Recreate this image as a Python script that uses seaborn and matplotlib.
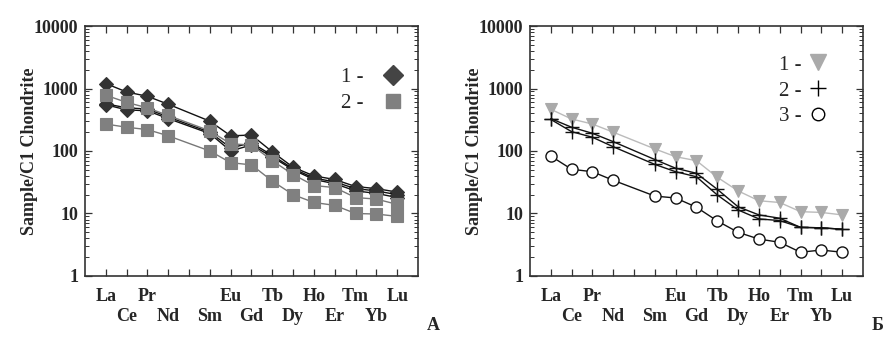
import numpy as np
import pandas as pd
import seaborn as sns
import matplotlib.pyplot as plt
from matplotlib.lines import Line2D

# REE order incl. Pm (no data, only a tick)
ree_all = ["La", "Ce", "Pr", "Nd", "Pm", "Sm", "Eu", "Gd", "Tb", "Dy", "Ho", "Er", "Tm", "Yb", "Lu"]
ree = ["La", "Ce", "Pr", "Nd", "Sm", "Eu", "Gd", "Tb", "Dy", "Ho", "Er", "Tm", "Yb", "Lu"]

# panel A
a_dia1 = [1200, 880, 750, 560, 300, 175, 180, 97, 55, 40, 35, 27, 25, 22]
a_dia2 = [550, 455, 440, 330, 190, 100, 125, 80, 50, 35, 30, 23, 21, 18]
a_dia3 = [570, 490, 470, 350, 200, 112, 135, 85, 52, 37, 32, 25, 23, 20]
a_sq1 = [780, 600, 490, 370, 210, 130, 125, 70, 42, 28, 26, 18, 17, 14]
a_sq2 = [270, 240, 220, 175, 100, 65, 60, 33, 20, 15, 13.5, 10, 9.8, 9]

# panel Б
b_tri = [465, 325, 270, 200, 108, 81, 70, 38, 23, 16, 15, 10.7, 10.4, 9.5]
b_cr1 = [330, 240, 192, 141, 73, 53, 44, 24.4, 12.8, 9.5, 8.4, 6.0, 5.9, 5.6]
b_cr2 = [320, 204, 166, 117, 61, 46.6, 38.7, 19.8, 11.4, 8.2, 7.7, 6.0, 5.9, 5.6]
b_circ = [83, 51, 46.6, 34, 19, 17.7, 12.6, 7.6, 5.0, 3.9, 3.46, 2.4, 2.6, 2.4]

sns.set_style("ticks")
plt.rcParams['font.family'] = ['Liberation Serif', 'DejaVu Serif']

xpos = [ree_all.index(e) for e in ree]


def draw(ax, vals, lcolor, marker, ms, mfc, mec, mew=0.8):
    df = pd.DataFrame({"x": xpos, "y": vals})
    sns.lineplot(data=df, x="x", y="y", ax=ax, sort=False, color=lcolor, lw=1,
                 marker=marker, markersize=ms, markerfacecolor=mfc,
                 markeredgecolor=mec, markeredgewidth=mew)


fig = plt.figure(figsize=(8.91, 3.44), dpi=100)
axA = fig.add_axes([0.0954, 0.1977, 0.3737, 0.7267])
axB = fig.add_axes([0.5948, 0.1977, 0.3737, 0.7267])

dark = "#333333"
sq = "#808080"
tri = "#aaaaaa"

for v in (a_dia1, a_dia2, a_dia3):
    draw(axA, v, "#111111", "D", 7, dark, dark)
for v in (a_sq1, a_sq2):
    draw(axA, v, "#777777", "s", 8, sq, sq)

draw(axB, b_tri, "#bbbbbb", "v", 9, tri, tri)
for v in (b_cr1, b_cr2):
    draw(axB, v, "#111111", "+", 10, "k", "#111111", 1.0)
draw(axB, b_circ, "#111111", "o", 8, "white", "#111111", 1.0)

# two rows of labels: upper row on major ticks, lower row (and unlabeled Pm) on minor ticks
pm = ree_all.index("Pm")
row1 = [i for i in range(len(ree_all)) if i % 2 == 0 and i != pm]
row2 = sorted([i for i in range(len(ree_all)) if i % 2 == 1] + [pm])

for ax in (axA, axB):
    ax.set_yscale("log")
    ax.set_ylim(1, 10000)
    ax.set_xlim(-1, 15)
    ax.set_xticks(row1)
    ax.set_xticklabels([ree_all[i] for i in row1], fontsize=13, fontweight="bold")
    ax.set_xticks(row2, minor=True)
    ax.set_xticklabels([ree_all[i] if i != pm else "" for i in row2], minor=True,
                       fontsize=13, fontweight="bold")
    ax.set_yticks([1, 10, 100, 1000, 10000])
    ax.set_yticklabels(["1", "10", "100", "1000", "10000"], fontsize=13, fontweight="bold")
    ax.tick_params(axis="both", which="major", direction="in", top=True, right=True,
                   length=5, width=0.9, color="#333333", pad=5)
    ax.tick_params(axis="x", which="major", pad=9)
    ax.tick_params(axis="x", which="minor", direction="in", bottom=True, top=True,
                   length=5, width=0.9, color="#333333", pad=23)
    ax.tick_params(axis="y", which="minor", direction="in", left=True, right=True,
                   length=3, width=0.7, color="#333333")
    ax.set_xlabel("")
    ax.set_ylabel("Sample/C1 Chondrite", fontsize=13, fontweight="bold", labelpad=-3)
    for s in ax.spines.values():
        s.set_linewidth(1.2)
        s.set_color("#333333")

hA = [Line2D([], [], ls="none", marker="D", ms=10, mfc="#444444", mec="#444444"),
      Line2D([], [], ls="none", marker="s", ms=10, mfc=sq, mec=sq)]
axA.legend(hA, ["1 -", "2 -"], loc="upper right", bbox_to_anchor=(1.018, 0.875),
           markerfirst=False, frameon=False, fontsize=15, handlelength=2.0,
           handletextpad=0.4, labelspacing=0.3, borderpad=0)

hB = [Line2D([], [], ls="none", marker="v", ms=12, mfc=tri, mec=tri),
      Line2D([], [], ls="none", marker="+", ms=11, mec="k", mew=1),
      Line2D([], [], ls="none", marker="o", ms=9, mfc="white", mec="k", mew=1)]
axB.legend(hB, ["1 -", "2 -", "3 -"], loc="upper right", bbox_to_anchor=(0.927, 0.925),
           markerfirst=False, frameon=False, fontsize=15, handlelength=1.0,
           handletextpad=0.3, labelspacing=0.3, borderpad=0)

axA.text(1.045, -0.2, "А", transform=axA.transAxes, fontsize=13, fontweight="bold",
         ha="center", va="center")
axB.text(1.045, -0.2, "Б", transform=axB.transAxes, fontsize=13, fontweight="bold",
         ha="center", va="center")

fig.savefig("out.png", dpi=100)
